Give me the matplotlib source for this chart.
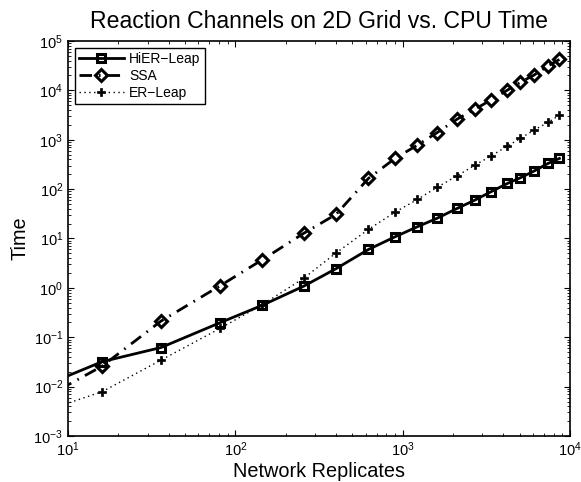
import matplotlib
matplotlib.use("Agg")
import matplotlib.pyplot as plt
from matplotlib.ticker import LogLocator, NullFormatter

plt.rcParams['font.family'] = ['Liberation Sans', 'DejaVu Sans']
plt.rcParams['mathtext.fontset'] = 'custom'
plt.rcParams['mathtext.rm'] = 'Liberation Sans'
plt.rcParams['mathtext.it'] = 'Liberation Sans:italic'
plt.rcParams['mathtext.bf'] = 'Liberation Sans:bold'

# Data
n_side = [3, 4, 6, 9, 12, 16, 20, 25, 30, 35, 40, 46, 52, 58, 65, 71, 78, 86, 93]
replicates = [n * n for n in n_side]
hier_leap = [0.0143, 0.032, 0.062, 0.197, 0.44, 1.08, 2.45, 6.0, 10.8, 17.3, 25.5,
             40.6, 60, 88, 130, 169, 231, 331, 418]
ssa = [0.0089, 0.026, 0.213, 1.10, 3.66, 12.7, 30.8, 165, 418, 778, 1380,
       2610, 4160, 6340, 10100, 14500, 20300, 31300, 42200]
er_leap = [0.0041, 0.0079, 0.0345, 0.151, 0.45, 1.56, 5.1, 15.3, 34, 61.8, 108,
           186, 306, 466, 742, 1060, 1560, 2240, 3150]

series_names = ['HiER\u2212Leap', 'SSA', 'ER\u2212Leap']
title = 'Reaction Channels on 2D Grid vs. CPU Time'
xlabel = 'Network Replicates'
ylabel = 'Time'

fig = plt.figure(figsize=(5.81, 4.82), dpi=100)
ax = fig.add_axes([0.117, 0.0954, 0.864, 0.8196])

ax.plot(replicates, hier_leap, color='black', linestyle='-', linewidth=2.0,
        marker='s', markersize=5.5, markerfacecolor='none', markeredgewidth=2.2,
        label=series_names[0])
ax.plot(replicates, ssa, color='black', linestyle=(0, (4.5, 2.5, 0.6, 2.5)), linewidth=2.0,
        marker='D', markersize=6, markerfacecolor='none', markeredgewidth=2.2,
        label=series_names[1])
ax.plot(replicates, er_leap, color='black', linestyle=(0, (1, 2.5)), linewidth=1.0,
        marker='P', markersize=6, markerfacecolor='black', markeredgecolor='black',
        markeredgewidth=0.5, label=series_names[2])

ax.set_xscale('log')
ax.set_yscale('log')
ax.set_xlim(10, 1e4)
ax.set_ylim(1e-3, 1e5)

ax.xaxis.set_major_locator(LogLocator(base=10, numticks=10))
ax.yaxis.set_major_locator(LogLocator(base=10, numticks=20))
ax.xaxis.set_minor_locator(LogLocator(base=10, subs=range(2, 10), numticks=20))
ax.yaxis.set_minor_locator(LogLocator(base=10, subs=range(2, 10), numticks=20))
ax.xaxis.set_minor_formatter(NullFormatter())
ax.yaxis.set_minor_formatter(NullFormatter())

ax.tick_params(which='both', direction='in', top=True, right=True, labelsize=10.5)
ax.tick_params(which='major', length=4.5, width=0.8)
ax.tick_params(which='minor', length=2.5, width=0.6,
               labelbottom=False, labelleft=False)
for s in ax.spines.values():
    s.set_linewidth(1.2)

ax.set_title(title, fontsize=16.6, pad=9)
ax.set_xlabel(xlabel, fontsize=14.3, labelpad=1.5)
ax.set_ylabel(ylabel, fontsize=14.3, labelpad=3)

leg = ax.legend(loc='upper left', fontsize=10, frameon=True, fancybox=False,
                edgecolor='black', framealpha=1, handlelength=3.2,
                borderaxespad=0.5, borderpad=0.3, labelspacing=0.2,
                handletextpad=0.4)
leg.get_frame().set_linewidth(1.0)

fig.savefig('out.png', dpi=100)
